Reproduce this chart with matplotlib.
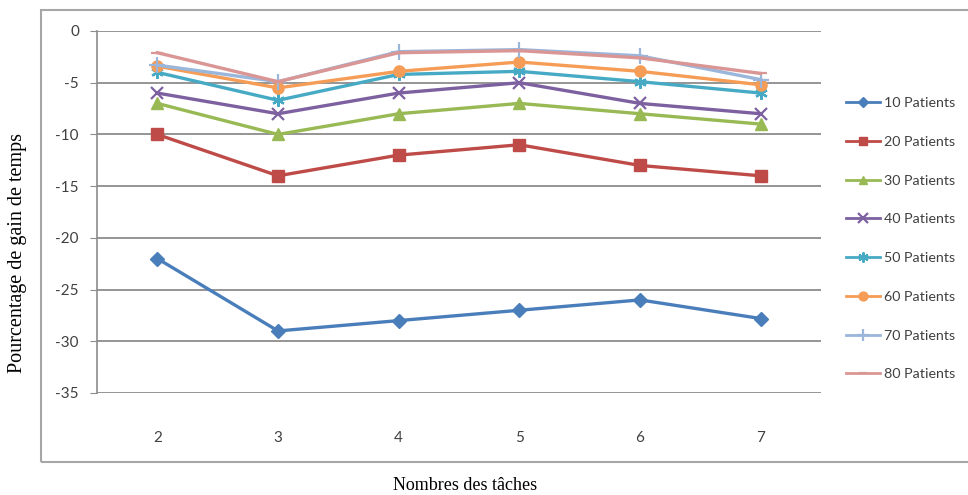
import matplotlib
matplotlib.use("Agg")
import matplotlib.pyplot as plt
from matplotlib.patches import Rectangle

# data
taches = [2, 3, 4, 5, 6, 7]
p10 = [-22, -29, -28, -27, -26, -27.8]
p20 = [-10, -14, -12, -11, -13, -14]
p30 = [-7, -10, -8, -7, -8, -9]
p40 = [-6, -8, -6, -5, -7, -8]
p50 = [-4, -6.7, -4.2, -3.9, -4.9, -6]
p60 = [-3.4, -5.5, -3.9, -3, -3.9, -5.2]
p70 = [-3.3, -4.9, -2, -1.8, -2.4, -4.7]
p80 = [-2.1, -4.9, -2.1, -1.9, -2.6, -4.1]
labels = ["10 Patients", "20 Patients", "30 Patients", "40 Patients",
          "50 Patients", "60 Patients", "70 Patients", "80 Patients"]
yticks = [0, -5, -10, -15, -20, -25, -30, -35]

series = [p10, p20, p30, p40, p50, p60, p70, p80]
colors = ["#4A7EBB", "#BE4B48", "#98B954", "#7D60A0",
          "#46AAC5", "#F59D56", "#9BB6DB", "#DA9694"]
markers = ["D", "s", "^", "x", (6, 2, 0), "o", "+", "_"]
msizes = [7, 8, 8, 9, 9, 8, 11, 8]

W, H = 968, 495
fig = plt.figure(figsize=(W / 100, H / 100), dpi=100)

# outer chart box
fig.patches.append(Rectangle((41 / W, 1 - 462 / H), (W - 38) / W, (462 - 10) / H,
                             transform=fig.transFigure, fill=False,
                             edgecolor="#A6A6A6", linewidth=1.5))

ax = fig.add_axes([97 / W, 1 - 393 / H, (821 - 97) / W, (393 - 31) / H])
for vals, c, m, ms, lab in zip(series, colors, markers, msizes, labels):
    ax.plot(taches, vals, color=c, marker=m, markersize=ms, linewidth=2.4,
            markeredgewidth=1.6 if m in ("x", "+", (6, 2, 0), "_") else 1,
            markeredgecolor=c, markerfacecolor=c, label=lab)

ax.set_xlim(1.5, 7.5)
ax.set_ylim(-35, 0)
ax.set_yticks(yticks)
ax.set_yticklabels([str(v) for v in yticks])
ax.set_xticks(taches)
ax.grid(axis="y", color="#8C8C8C", linewidth=1.3)
ax.set_axisbelow(True)
for s in ("top", "right", "bottom"):
    ax.spines[s].set_visible(False)
ax.spines["left"].set_color("#8C8C8C")
ax.spines["left"].set_linewidth(1.2)
ax.tick_params(axis="y", length=5, color="#8C8C8C", labelsize=11,
               labelcolor="#404040", pad=8)
ax.tick_params(axis="x", length=0, labelsize=11, labelcolor="#404040", pad=27)
for t in ax.get_xticklabels() + ax.get_yticklabels():
    t.set_fontfamily("Lato")

fig.text(18 / W, 1 - 253 / H, "Pourcentage de gain de temps", rotation=90,
         ha="center", va="center", fontsize=14.5, family="Liberation Serif")
fig.text(465 / W, 1 - 485 / H, "Nombres des tâches", ha="center", va="center",
         fontsize=13, family="Liberation Serif")

leg = ax.legend(loc="upper left", bbox_to_anchor=(846 / W, 1 - 97 / H),
                bbox_transform=fig.transFigure, frameon=False,
                prop={"family": "Lato", "size": 10.3}, handlelength=2.4,
                handletextpad=0.25, labelspacing=1.87, borderpad=0,
                borderaxespad=0, markerscale=0.8)
for t in leg.get_texts():
    t.set_color("#404040")
for h in leg.legend_handles:
    h.set_linewidth(2)

fig.savefig("out.png", dpi=100)
